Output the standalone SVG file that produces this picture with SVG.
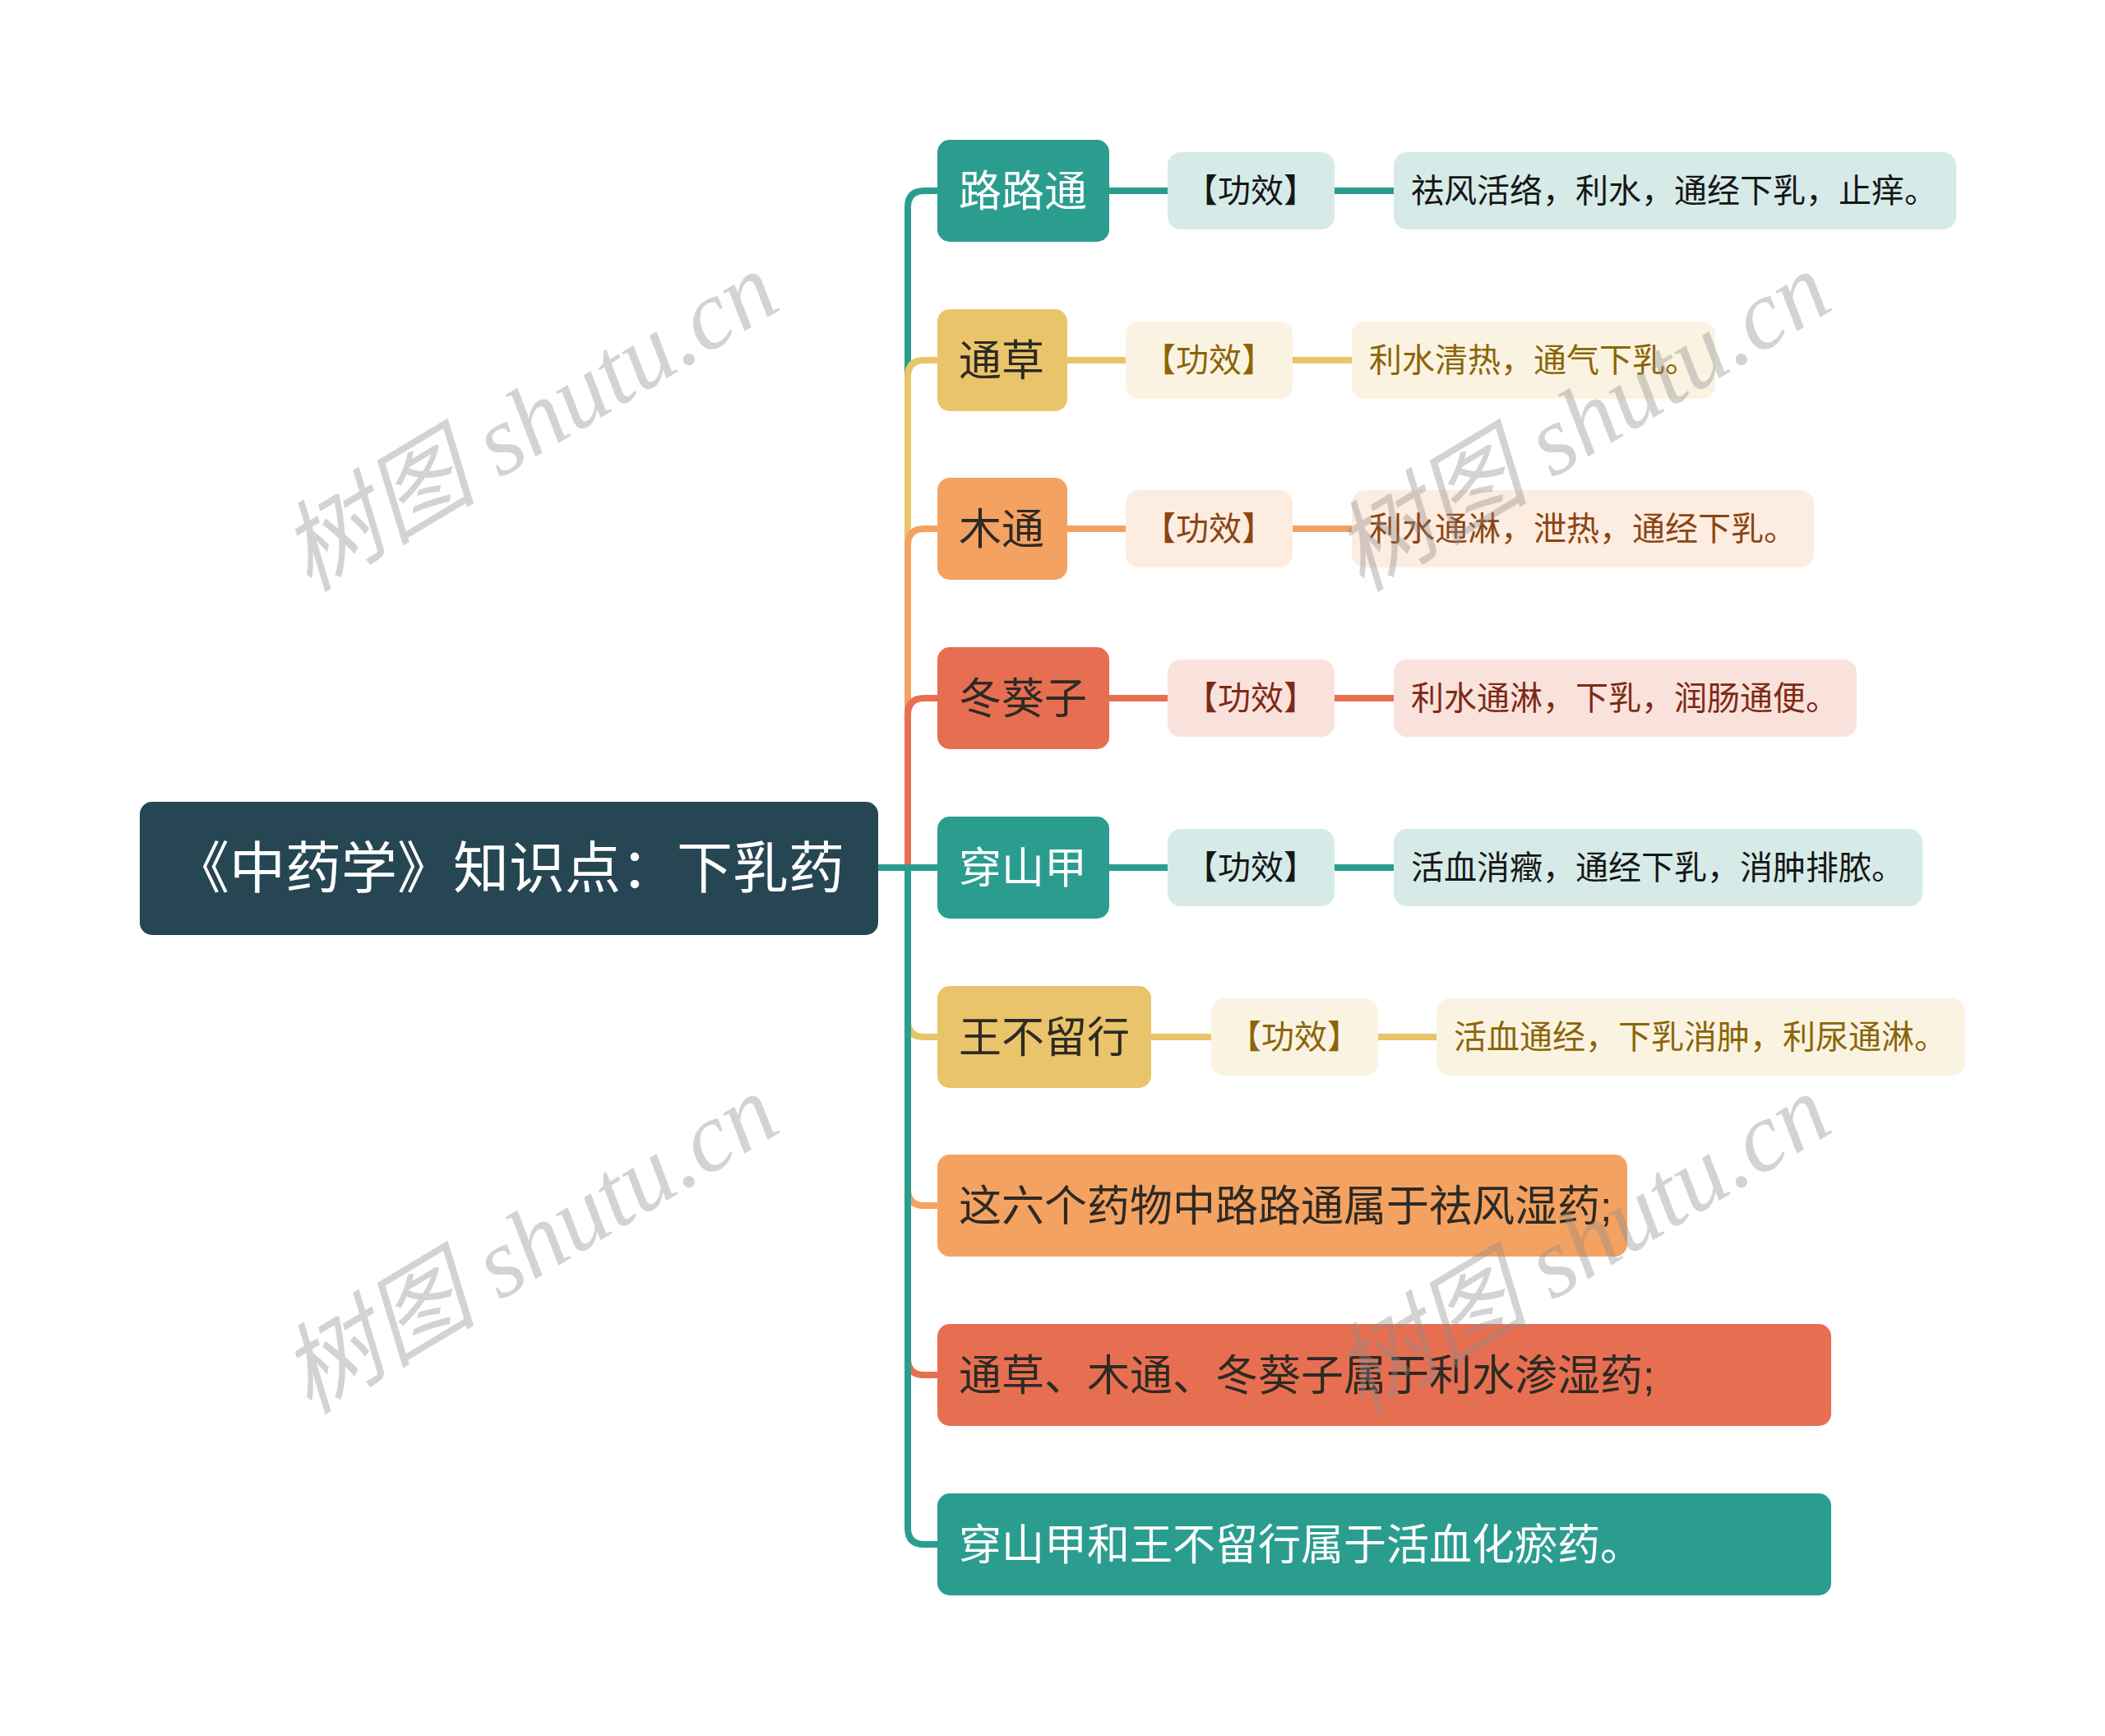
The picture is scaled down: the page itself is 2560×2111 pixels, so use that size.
<svg xmlns="http://www.w3.org/2000/svg" width="2560" height="2111" viewBox="0 0 2560 2111">
<style>
text{font-family:"Liberation Sans","Noto Sans CJK SC",sans-serif;}
.l1{font-size:52px;}
.l2{font-size:40px;}
.root{font-size:68px;fill:#ffffff;}
.w{fill:#ffffff;}
.d{fill:#2e2a24;}
.teal{fill:#2a9d8f;}
.yel{fill:#e9c46a;}
.ora{fill:#f4a261;}
.red{fill:#e76f51;}
.tealL{fill:#d6ebe8;}
.yelL{fill:#fbf3e1;}
.oraL{fill:#fdece0;}
.redL{fill:#fae2dc;}
.tTeal{fill:#161616;}
.tYel{fill:#8b6508;}
.tOra{fill:#8b4512;}
.tRed{fill:#7d2a16;}
.c{fill:none;stroke-width:8;}
.sTeal{stroke:#2a9d8f;}
.sYel{stroke:#e9c46a;}
.sOra{stroke:#f4a261;}
.sRed{stroke:#e76f51;}
text.wm{font-family:"Liberation Serif","Noto Sans CJK SC",serif;font-style:italic;font-size:120px;fill:#8c8c8c;fill-opacity:0.38;}
</style>
<rect width="2560" height="2111" fill="#ffffff"/>
<g id="connectors">
<path class="c sTeal" d="M1068,1055 H1104 V252 Q1104,232 1124,232 H1140"/>
<path class="c sYel" d="M1068,1055 H1104 V458 Q1104,438 1124,438 H1140"/>
<path class="c sOra" d="M1068,1055 H1104 V663 Q1104,643 1124,643 H1140"/>
<path class="c sRed" d="M1068,1055 H1104 V869 Q1104,849 1124,849 H1140"/>
<path class="c sTeal" d="M1068,1055 H1140"/>
<path class="c sYel" d="M1068,1055 H1104 V1241 Q1104,1261 1124,1261 H1140"/>
<path class="c sOra" d="M1068,1055 H1104 V1446 Q1104,1466 1124,1466 H1140"/>
<path class="c sRed" d="M1068,1055 H1104 V1652 Q1104,1672 1124,1672 H1140"/>
<path class="c sTeal" d="M1068,1055 H1104 V1858 Q1104,1878 1124,1878 H1140"/>
<path class="c sTeal" d="M1349,232 H1420 M1623,232 H1695"/>
<path class="c sYel" d="M1298,438 H1369 M1572,438 H1644"/>
<path class="c sOra" d="M1298,643 H1369 M1572,643 H1644"/>
<path class="c sRed" d="M1349,849 H1420 M1623,849 H1695"/>
<path class="c sTeal" d="M1349,1055 H1420 M1623,1055 H1695"/>
<path class="c sYel" d="M1400,1261 H1473 M1676,1261 H1747"/>
</g>
<g id="root">
<rect x="170" y="975" width="898" height="162" rx="15" fill="#264653"/>
<text class="root" x="619" y="1080" text-anchor="middle">《中药学》知识点：下乳药</text>
</g>
<g id="n1">
<rect class="teal" x="1140" y="170" width="209" height="124" rx="15"/>
<text class="l1 w" x="1166" y="251">路路通</text>
</g>
<g id="n1a">
<rect class="tealL" x="1420" y="185" width="203" height="94" rx="16"/>
<text class="l2 tTeal" x="1441" y="246">【功效】</text>
</g>
<g id="n1b">
<rect class="tealL" x="1695" y="185" width="684" height="94" rx="16"/>
<text class="l2 tTeal" x="1716" y="246">祛风活络，利水，通经下乳，止痒。</text>
</g>
<g id="n2">
<rect class="yel" x="1140" y="376" width="158" height="124" rx="15"/>
<text class="l1 d" x="1166" y="457">通草</text>
</g>
<g id="n2a">
<rect class="yelL" x="1369" y="391" width="203" height="94" rx="16"/>
<text class="l2 tYel" x="1390" y="452">【功效】</text>
</g>
<g id="n2b">
<rect class="yelL" x="1644" y="391" width="442" height="94" rx="16"/>
<text class="l2 tYel" x="1665" y="452">利水清热，通气下乳。</text>
</g>
<g id="n3">
<rect class="ora" x="1140" y="581" width="158" height="124" rx="15"/>
<text class="l1 d" x="1166" y="662">木通</text>
</g>
<g id="n3a">
<rect class="oraL" x="1369" y="596" width="203" height="94" rx="16"/>
<text class="l2 tOra" x="1390" y="657">【功效】</text>
</g>
<g id="n3b">
<rect class="oraL" x="1644" y="596" width="562" height="94" rx="16"/>
<text class="l2 tOra" x="1665" y="657">利水通淋，泄热，通经下乳。</text>
</g>
<g id="n4">
<rect class="red" x="1140" y="787" width="209" height="124" rx="15"/>
<text class="l1 d" x="1166" y="868">冬葵子</text>
</g>
<g id="n4a">
<rect class="redL" x="1420" y="802" width="203" height="94" rx="16"/>
<text class="l2 tRed" x="1441" y="863">【功效】</text>
</g>
<g id="n4b">
<rect class="redL" x="1695" y="802" width="563" height="94" rx="16"/>
<text class="l2 tRed" x="1716" y="863">利水通淋，下乳，润肠通便。</text>
</g>
<g id="n5">
<rect class="teal" x="1140" y="993" width="209" height="124" rx="15"/>
<text class="l1 w" x="1166" y="1074">穿山甲</text>
</g>
<g id="n5a">
<rect class="tealL" x="1420" y="1008" width="203" height="94" rx="16"/>
<text class="l2 tTeal" x="1441" y="1069">【功效】</text>
</g>
<g id="n5b">
<rect class="tealL" x="1695" y="1008" width="643" height="94" rx="16"/>
<text class="l2 tTeal" x="1716" y="1069">活血消癥，通经下乳，消肿排脓。</text>
</g>
<g id="n6">
<rect class="yel" x="1140" y="1199" width="260" height="124" rx="15"/>
<text class="l1 d" x="1166" y="1280">王不留行</text>
</g>
<g id="n6a">
<rect class="yelL" x="1473" y="1214" width="203" height="94" rx="16"/>
<text class="l2 tYel" x="1494" y="1275">【功效】</text>
</g>
<g id="n6b">
<rect class="yelL" x="1747" y="1214" width="643" height="94" rx="16"/>
<text class="l2 tYel" x="1768" y="1275">活血通经，下乳消肿，利尿通淋。</text>
</g>
<g id="n7">
<rect class="ora" x="1140" y="1404" width="839" height="124" rx="15"/>
<text class="l1 d" x="1166" y="1485">这六个药物中路路通属于祛风湿药;</text>
</g>
<g id="n8">
<rect class="red" x="1140" y="1610" width="1087" height="124" rx="15"/>
<text class="l1 d" x="1166" y="1691">通草、木通、冬葵子属于利水渗湿药;</text>
</g>
<g id="n9">
<rect class="teal" x="1140" y="1816" width="1087" height="124" rx="15"/>
<text class="l1 w" x="1166" y="1897">穿山甲和王不留行属于活血化瘀药。</text>
</g>
<g id="watermarks">
<text class="wm" x="645" y="553" text-anchor="middle" transform="rotate(-31 645 515)">树图 shutu.cn</text>
<text class="wm" x="1925" y="553" text-anchor="middle" transform="rotate(-31 1925 515)">树图 shutu.cn</text>
<text class="wm" x="645" y="1553" text-anchor="middle" transform="rotate(-31 645 1515)">树图 shutu.cn</text>
<text class="wm" x="1925" y="1553" text-anchor="middle" transform="rotate(-31 1925 1515)">树图 shutu.cn</text>
</g>
</svg>
